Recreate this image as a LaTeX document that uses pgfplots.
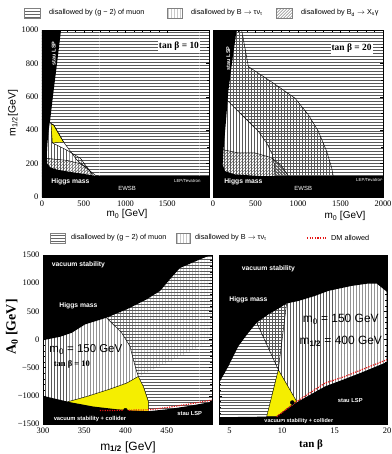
\documentclass[border=0pt]{standalone}
\usepackage{fontspec}
\setmainfont{Liberation Sans}
\newfontfamily\serif{Liberation Serif}
\usepackage{pgfplots}
\pgfplotsset{compat=1.18}
\usetikzlibrary{patterns}
\definecolor{yel}{RGB}{245,238,0}
\definecolor{dmred}{RGB}{230,20,20}
\pgfplotsset{
  panel/.style={scale only axis, axis on top, clip=true, tick align=inside,
    tick label style={font=\serif\fontsize{8.5}{9}\selectfont},
    every tick/.style={black, line width=0.4pt}, axis line style={line width=0.6pt},
    major tick length=3pt, minor tick length=1.6pt},
  hl/.style={draw=none, pattern=horizontal lines, pattern color=black!65},
  vl/.style={draw=none, pattern=vertical lines, pattern color=black!65},
  nel/.style={draw=none, pattern=north east lines, pattern color=black!65},
  bnd/.style={black, line width=0.45pt},
}
\tikzset{wt/.style={text=white, font=\bfseries\fontsize{6.5}{7}\selectfont, inner sep=0pt}}
\begin{document}
\begin{tikzpicture}
\path[use as bounding box] (0,0) rectangle (392bp,-454bp);
% ---------- top legend
\draw[gray, line width=0.3pt, pattern=horizontal lines, pattern color=black!60] (24bp,-8bp) rectangle (40bp,-18bp);
\node[anchor=west, inner sep=0pt, font=\fontsize{7.3}{8}\selectfont] at (49bp,-13bp) {disallowed by (g − 2) of muon};
\draw[gray, line width=0.3pt, pattern=vertical lines, pattern color=black!60] (167bp,-8bp) rectangle (182bp,-18bp);
\node[anchor=west, inner sep=0pt, font=\fontsize{7.3}{8}\selectfont] at (191bp,-13bp) {disallowed by B $\rightarrow$ τν\textsubscript{τ}};
\draw[gray, line width=0.3pt, pattern=north east lines, pattern color=black!60] (276bp,-8bp) rectangle (292bp,-18bp);
\node[anchor=west, inner sep=0pt, font=\fontsize{7.3}{8}\selectfont] at (301bp,-13bp) {disallowed by B\textsubscript{d} $\rightarrow$ X\textsubscript{s}γ};
% ---------- bottom legend
\draw[gray, line width=0.3pt, pattern=horizontal lines, pattern color=black!60] (50bp,-233bp) rectangle (65bp,-243bp);
\node[anchor=west, inner sep=0pt, font=\fontsize{7.3}{8}\selectfont] at (71bp,-238bp) {disallowed by (g − 2) of muon};
\draw[gray, line width=0.3pt, pattern=vertical lines, pattern color=black!60] (176bp,-233bp) rectangle (190bp,-243bp);
\node[anchor=west, inner sep=0pt, font=\fontsize{7.3}{8}\selectfont] at (195bp,-238bp) {disallowed by B $\rightarrow$ τν\textsubscript{τ}};
\draw[dmred, line width=1.3pt, dash pattern=on 1.3pt off 1.3pt] (307bp,-238bp) -- (327bp,-238bp);
\node[anchor=west, inner sep=0pt, font=\fontsize{7.3}{8}\selectfont] at (331bp,-238bp) {DM allowed};

% ================= TOP LEFT =================
\begin{axis}[panel, at={(42bp,-197bp)}, anchor=south west, width=167bp, height=167bp,
  xmin=0, xmax=2000, ymin=0, ymax=1000,
  xtick={0,500,1000,1500}, xticklabels={0,500,1000,1500},
  ytick={0,200,400,600,800,1000}, yticklabels={0,200,400,600,800,1000},
  minor x tick num=4, minor y tick num=1]
\addplot[hl] coordinates {(0,1000) (2000,1000) (2000,0) (680,0) (680,125) (640,130) (540,170) (420,220) (260,328) (140,431) (108,440) (90,450) (0,450)} -- cycle;
\addplot[vl] coordinates {(0,450) (90,450) (108,440) (124,324) (300,280) (460,232) (548,172) (600,135) (600,0) (0,0)} -- cycle;
\addplot[nel] coordinates {(0,231) (60,231) (300,219) (460,199) (548,171) (610,135) (650,120) (0,120)} -- cycle;
\addplot[fill=yel, draw=black, line width=0.45pt] coordinates {(108,440) (140,431) (260,328) (124,324)} -- cycle;
\addplot[bnd] coordinates {(90,450) (108,440) (140,431) (260,328) (420,220) (540,170) (640,130) (680,125)};
\addplot[bnd] coordinates {(124,324) (300,280) (460,232) (548,172) (600,135)};
\addplot[bnd] coordinates {(60,231) (300,219) (460,199) (548,171) (610,135)};
\addplot[fill=black, draw=none] coordinates {(0,0) (2000,0) (2000,125) (680,125) (600,130) (450,142) (300,153) (180,164) (100,177) (62,200) (58,260) (65,320) (80,400) (100,470) (130,600) (175,780) (228,1000) (0,1000)} -- cycle;
\node[wt, rotate=90, font=\bfseries\fontsize{5.5}{6}\selectfont] at (axis cs:140,860) {stau LSP};
\node[fill=white, inner sep=1pt, font=\serif\bfseries\fontsize{9.5}{10}\selectfont] at (axis cs:1640,905) {tan β = 10};
\node[wt, font=\bfseries\fontsize{6.8}{7}\selectfont] at (axis cs:340,91) {Higgs mass};
\node[wt, font=\fontsize{6}{7}\selectfont] at (axis cs:1020,52) {EWSB};
\node[wt, font=\fontsize{4.4}{5}\selectfont] at (axis cs:1740,96) {LEP/Tevatron};
\end{axis}

% ================= TOP RIGHT =================
\begin{axis}[panel, at={(213bp,-197bp)}, anchor=south west, width=170bp, height=167bp,
  xmin=0, xmax=2000, ymin=0, ymax=1000,
  xtick={0,500,1000,1500,2000}, xticklabels={0,500,1000,1500,2000},
  ytick={0,200,400,600,800,1000}, yticklabels={},
  minor x tick num=4, minor y tick num=1]
\addplot[hl] coordinates {(0,582) (161,582) (376,473) (533,394) (631,324) (698,254) (721,195) (729,125) (729,0) (2000,0) (2000,1000) (0,1000)} -- cycle;
\addplot[vl] coordinates {(0,1000) (337,1000) (416,781) (710,682) (964,592) (1121,493) (1239,394) (1337,274) (1396,175) (1415,125) (1415,0) (0,0)} -- cycle;
\addplot[nel] coordinates {(0,284) (110,284) (298,264) (494,264) (690,235) (808,185) (886,125) (886,0) (0,0)} -- cycle;
\addplot[bnd] coordinates {(161,582) (376,473) (533,394) (631,324) (698,254) (721,195) (729,125)};
\addplot[bnd] coordinates {(337,1000) (416,781) (710,682) (964,592) (1121,493) (1239,394) (1337,274) (1396,175) (1415,125)};
\addplot[bnd] coordinates {(110,284) (298,264) (494,264) (690,235) (808,185) (886,125)};
\addplot[fill=black, draw=none] coordinates {(0,0) (2000,0) (2000,125) (572,125) (259,135) (141,155) (114,195) (122,274) (149,433) (180,632) (220,791) (278,1000) (0,1000)} -- cycle;
\node[wt, rotate=90, font=\bfseries\fontsize{5.5}{6}\selectfont] at (axis cs:180,830) {stau LSP};
\node[fill=white, inner sep=1pt, font=\serif\bfseries\fontsize{9.5}{10}\selectfont] at (axis cs:1630,890) {tan β = 20};
\node[wt, font=\bfseries\fontsize{6.8}{7}\selectfont] at (axis cs:357,91) {Higgs mass};
\node[wt, font=\fontsize{6}{7}\selectfont] at (axis cs:1062,50) {EWSB};
\node[wt, font=\fontsize{4.4}{5}\selectfont] at (axis cs:1840,100) {LEP/Tevatron};
\end{axis}

% ================= BOTTOM LEFT =================
\begin{axis}[panel, at={(43bp,-424bp)}, anchor=south west, width=169bp, height=169bp,
  xmin=300, xmax=505, ymin=-1500, ymax=1500,
  xtick={300,350,400,450}, xticklabels={300,350,400,450},
  ytick={-1500,-1000,-500,0,500,1000,1500}, yticklabels={−1500,−1000,−500,0,500,1000,1500},
  minor x tick num=4, minor y tick num=4]
\addplot[hl] coordinates {(377,387) (395.4,119) (405.5,-119) (409.6,-357) (413.6,-565) (415.6,-655) (421.7,-833) (427.8,-1101) (428,-1500) (505,-1500) (505,1500) (377,1500)} -- cycle;
\addplot[vl] coordinates {(300,1500) (505,1500) (505,-12) (490.5,-119) (458,-357) (417.7,-643) (415.6,-655) (401.5,-774) (381,-881) (353,-1012) (330,-1105) (330,-1500) (300,-1500)} -- cycle;
\addplot[fill=yel, draw=none] coordinates {(330,-1105) (353,-1012) (381,-881) (401.5,-774) (415.6,-655) (421.7,-833) (427.8,-1101) (428,-1290) (330,-1290)} -- cycle;
\addplot[bnd] coordinates {(330,-1105) (353,-1012) (381,-881) (401.5,-774) (415.6,-655) (421.7,-833) (427.8,-1101) (428,-1290)};
\addplot[bnd] coordinates {(377,387) (395.4,119) (405.5,-119) (409.6,-357) (413.6,-565) (415.6,-655)};
\addplot[fill=black, draw=none] coordinates {(300,1520) (300,-12) (320.6,48) (334.8,119) (351,268) (377,387) (401.5,536) (425.8,714) (442,863) (454,1071) (466,1268) (490.5,1423) (505,1506) (505,1520)} -- cycle;
\addplot[fill=black, draw=none] coordinates {(300,-1520) (300,-1000) (332.8,-1113) (361,-1190) (389,-1238) (409.6,-1262) (428,-1272) (450,-1240) (475,-1185) (505,-1105) (505,-1520)} -- cycle;
\addplot[dmred, line width=1.2pt, dash pattern=on 1.2pt off 1.2pt] coordinates {(369,-1262) (400,-1256) (428,-1248) (450,-1208) (475,-1152) (505,-1075)};
\addplot[only marks, mark=*, mark size=2pt, black] coordinates {(400,-1256)};
\node[wt, font=\bfseries\fontsize{6.8}{7}\selectfont] at (axis cs:343,1321) {vacuum stability};
\node[wt, font=\bfseries\fontsize{6.8}{7}\selectfont] at (axis cs:343,607) {Higgs mass};
\node[inner sep=0pt, font=\fontsize{11.5}{12}\selectfont] at (axis cs:352,-178) {m\textsubscript{0} = 150 GeV};
\node[inner sep=0pt, font=\serif\bfseries\fontsize{8.5}{9}\selectfont] at (axis cs:335,-446) {tan β = 10};
\node[wt, font=\bfseries\fontsize{5.8}{6}\selectfont] at (axis cs:357,-1416) {vacuum stability + collider};
\node[wt, font=\bfseries\fontsize{5.8}{6}\selectfont] at (axis cs:478,-1321) {stau LSP};
\end{axis}

% ================= BOTTOM RIGHT =================
\begin{axis}[panel, at={(219bp,-424bp)}, anchor=south west, width=168bp, height=169bp,
  xmin=4, xmax=20, ymin=-1500, ymax=1500,
  xtick={5,10,15,20}, xticklabels={5,10,15,20},
  ytick={-1500,-1000,-500,0,500,1000,1500}, yticklabels={},
  minor x tick num=4, minor y tick num=4]
\addplot[hl] coordinates {(4,-1500) (4,1500) (10.44,1500) (10.44,640) (9.65,-536) (8.54,-1369) (8.54,-1500)} -- cycle;
\addplot[vl] coordinates {(7.59,1500) (20,1500) (20,-1500) (11.4,-1500) (11.4,-1101) (9.65,-536) (7.59,300)} -- cycle;
\addplot[fill=yel, draw=black, line width=0.45pt] coordinates {(8.54,-1369) (9.65,-536) (11.4,-1101) (9.49,-1369)} -- cycle;
\addplot[bnd] coordinates {(7.59,300) (9.65,-536)};
\addplot[bnd] coordinates {(10.44,640) (9.65,-536)};
\addplot[fill=black, draw=none] coordinates {(4,1520) (4,-773) (4.89,-476) (5.84,-119) (6.79,119) (7.59,300) (8.7,446) (9.65,548) (10.44,640) (11.56,684) (13.14,774) (14.41,863) (16.64,952) (18.22,994) (19.02,994) (20,845) (20,1520)} -- cycle;
\addplot[fill=black, draw=none] coordinates {(4,-1520) (4,-1380) (8.54,-1369) (9.49,-1369) (11.4,-1115) (14.1,-833) (16,-700) (17.59,-585) (20,-400) (20,-1520)} -- cycle;
\addplot[dmred, line width=1.2pt, dash pattern=on 1.2pt off 1.2pt] coordinates {(9.49,-1369) (11.4,-1101) (14.1,-773) (16,-655) (17.59,-536) (20,-357)};
\addplot[only marks, mark=*, mark size=2pt, black] coordinates {(10.98,-1119)};
\node[wt, font=\bfseries\fontsize{6.8}{7}\selectfont] at (axis cs:8.7,1250) {vacuum stability};
\node[wt, font=\bfseries\fontsize{6.8}{7}\selectfont] at (axis cs:6.8,714) {Higgs mass};
\node[inner sep=0pt, font=\fontsize{12}{13}\selectfont] at (axis cs:15.6,357) {m\textsubscript{0} = 150 GeV};
\node[inner sep=0pt, font=\fontsize{12}{13}\selectfont] at (axis cs:15.6,-30) {m\textsubscript{\textbf{1/2}} = 400 GeV};
\node[wt, font=\bfseries\fontsize{5.8}{6}\selectfont] at (axis cs:16.5,-1089) {stau LSP};
\node[wt, font=\bfseries\fontsize{5.5}{6}\selectfont] at (axis cs:11.6,-1440) {vacuum stability + collider};
\end{axis}

% ---------- axis labels
\node[font=\fontsize{10}{11}\selectfont] at (127bp,-214bp) {m\textsubscript{0} [GeV]};
\node[font=\fontsize{10}{11}\selectfont] at (345bp,-216bp) {m\textsubscript{0} [GeV]};
\node[rotate=90, font=\fontsize{10.5}{11}\selectfont] at (13bp,-113bp) {m\textsubscript{1/2}[GeV]};
\node[font=\fontsize{12}{13}\selectfont] at (128bp,-447bp) {m\textsubscript{\textbf{1/2}} [GeV]};
\node[font=\serif\bfseries\fontsize{11}{12}\selectfont] at (311bp,-445bp) {tan β};
\node[rotate=90, font=\serif\bfseries\fontsize{14}{15}\selectfont] at (12bp,-327bp) {A\textsubscript{0} [GeV]};
\end{tikzpicture}
\end{document}
